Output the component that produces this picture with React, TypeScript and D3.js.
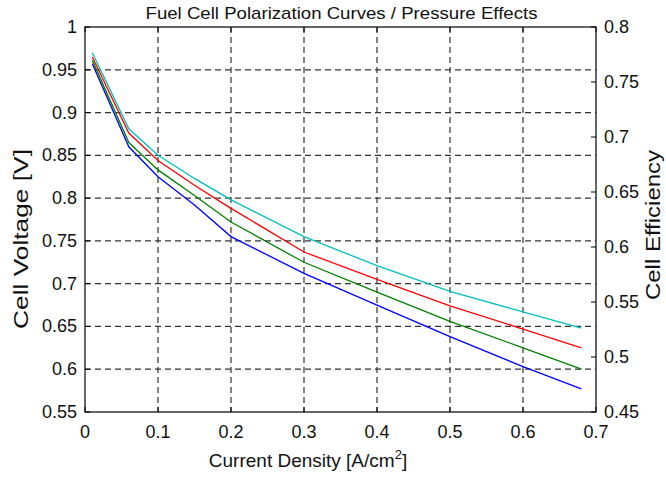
import React from "react";
import * as d3 from "d3";

const currentDensity = [0.01, 0.06, 0.1, 0.15, 0.2, 0.3, 0.4, 0.5, 0.6, 0.68];
const seriesBlue = [0.957, 0.86, 0.825, 0.792, 0.755, 0.712, 0.675, 0.638, 0.603, 0.577];
const seriesGreen = [0.961, 0.865, 0.833, 0.803, 0.772, 0.725, 0.69, 0.656, 0.625, 0.6];
const seriesRed = [0.965, 0.876, 0.844, 0.815, 0.788, 0.737, 0.705, 0.674, 0.647, 0.625];
const seriesCyan = [0.97, 0.881, 0.85, 0.823, 0.798, 0.755, 0.721, 0.691, 0.667, 0.648];
const xTicks = [0, 0.1, 0.2, 0.3, 0.4, 0.5, 0.6, 0.7];
const yTicks = [0.55, 0.6, 0.65, 0.7, 0.75, 0.8, 0.85, 0.9, 0.95, 1];
const effTicks = [0.45, 0.5, 0.55, 0.6, 0.65, 0.7, 0.75, 0.8];

const series = [
  { values: seriesBlue, color: "#0000ff" },
  { values: seriesGreen, color: "#008000" },
  { values: seriesRed, color: "#ff0000" },
  { values: seriesCyan, color: "#00bfbf" },
];

const W = 666, H = 477;
const L = 85, R = 596, T = 27, B = 412;
const font = "'Liberation Sans', Arial, sans-serif";

export default function App() {
  const x = d3.scaleLinear().domain([0, 0.7]).range([L, R]);
  const y = d3.scaleLinear().domain([0.55, 1]).range([B, T]);
  const y2 = d3.scaleLinear().domain([0.45, 0.8]).range([B, T]);
  const fmt = (v: number) => String(+v.toFixed(2));
  const line = (vals: number[]) =>
    d3.line<number>().x((_, i) => x(currentDensity[i])).y((d) => y(d))(vals) || "";

  return (
    <svg width={W} height={H} style={{ position: "absolute", left: 0, top: 0, background: "#fff" }}>
      <rect x={0} y={0} width={W} height={H} fill="#fff" />
      {xTicks.slice(1, -1).map((t) => (
        <line key={"gx" + t} x1={x(t)} x2={x(t)} y1={T} y2={B} stroke="#333" strokeWidth={1.2} strokeDasharray="6,4" />
      ))}
      {yTicks.slice(1, -1).map((t) => (
        <line key={"gy" + t} x1={L} x2={R} y1={y(t)} y2={y(t)} stroke="#333" strokeWidth={1.2} strokeDasharray="6,4" />
      ))}
      {series.map((s, i) => (
        <path key={i} d={line(s.values)} fill="none" stroke={s.color} strokeWidth={1.3} />
      ))}
      <rect x={L} y={T} width={R - L} height={B - T} fill="none" stroke="#000" strokeWidth={1.2} />
      {xTicks.map((t) => (
        <g key={"tx" + t}>
          <line x1={x(t)} x2={x(t)} y1={B} y2={B - 5} stroke="#000" />
          <line x1={x(t)} x2={x(t)} y1={T} y2={T + 5} stroke="#000" />
          <text x={x(t)} y={B + 26} textAnchor="middle" fontFamily={font} fontSize={18} fill="#111">{fmt(t)}</text>
        </g>
      ))}
      {yTicks.map((t) => (
        <g key={"ty" + t}>
          <line x1={L} x2={L + 5} y1={y(t)} y2={y(t)} stroke="#000" />
          <text x={L - 8} y={y(t) + 6} textAnchor="end" fontFamily={font} fontSize={18} fill="#111">{fmt(t)}</text>
        </g>
      ))}
      {effTicks.map((t) => (
        <g key={"te" + t}>
          <line x1={R} x2={R - 5} y1={y2(t)} y2={y2(t)} stroke="#000" />
          <text x={R + 8} y={y2(t) + 6} textAnchor="start" fontFamily={font} fontSize={18} fill="#111">{fmt(t)}</text>
        </g>
      ))}
      <text x={341.5} y={19} textAnchor="middle" fontFamily={font} fontSize={17} fill="#111" textLength={392} lengthAdjust="spacingAndGlyphs">
        Fuel Cell Polarization Curves / Pressure Effects
      </text>
      <text x={308} y={467} textAnchor="middle" fontFamily={font} fontSize={19} fill="#111">
        Current Density [A/cm<tspan dy={-8} fontSize={13}>2</tspan><tspan dy={8}>]</tspan>
      </text>
      <text transform={`translate(28,239) rotate(-90)`} textAnchor="middle" fontFamily={font} fontSize={21} fill="#111" textLength={180} lengthAdjust="spacingAndGlyphs">
        Cell Voltage [V]
      </text>
      <text transform={`translate(660,225) rotate(-90)`} textAnchor="middle" fontFamily={font} fontSize={21} fill="#111" textLength={150} lengthAdjust="spacingAndGlyphs">
        Cell Efficiency
      </text>
    </svg>
  );
}
